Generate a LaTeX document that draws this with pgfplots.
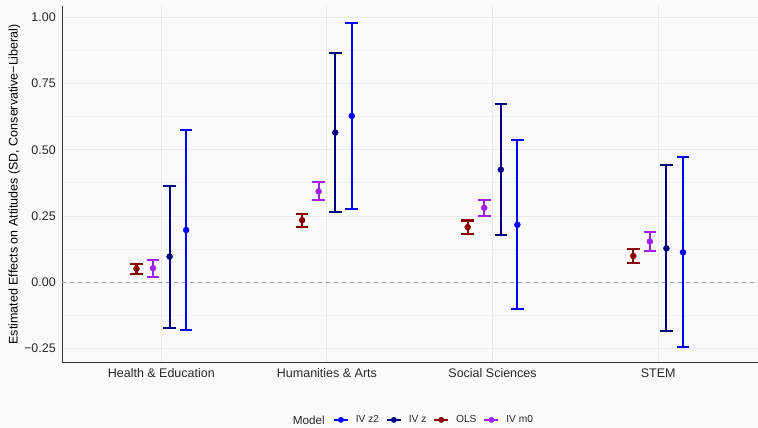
\documentclass[border=0pt]{standalone}
\usepackage{fontspec}
\setmainfont{Liberation Sans}
\usepackage{pgfplots}
\pgfplotsset{compat=1.18}
\usepackage{pgfplotstable}

\definecolor{bg}{RGB}{250,250,250}
\definecolor{gridmaj}{RGB}{234,234,234}
\definecolor{gridmin}{RGB}{241,241,241}
\definecolor{cz2}{RGB}{0,0,255}
\definecolor{cz}{RGB}{0,0,128}
\definecolor{cols}{RGB}{139,0,0}
\definecolor{cm0}{RGB}{160,32,240}
\definecolor{txt}{RGB}{40,40,40}

% category index, estimate, lower CI, upper CI
\pgfplotstableread{
x y lo hi
1 0.197 -0.179 0.575
2 0.628 0.278 0.979
3 0.217 -0.102 0.536
4 0.113 -0.243 0.473
}\ivzz
\pgfplotstableread{
x y lo hi
1 0.097 -0.174 0.365
2 0.565 0.264 0.866
3 0.425 0.178 0.674
4 0.128 -0.185 0.442
}\ivz
\pgfplotstableread{
x y lo hi
1 0.051 0.030 0.070
2 0.234 0.209 0.258
3 0.208 0.183 0.233
4 0.099 0.074 0.127
}\ols
\pgfplotstableread{
x y lo hi
1 0.053 0.021 0.084
2 0.343 0.311 0.377
3 0.281 0.249 0.309
4 0.154 0.119 0.188
}\ivmz

\pgfplotsset{
 errplot/.style={only marks, mark=*, mark size=3pt, color=#1, mark options={draw=#1, fill=#1},
  error bars/.cd, y dir=both, y explicit,
  error bar style={line width=2.1pt, draw=#1},
  error mark options={rotate=90, line width=2.1pt, mark size=6.3pt, draw=#1},
  /pgfplots/legend image code/.code={\draw[line width=1.8pt, draw=#1] (0pt,0pt) -- (14pt,0pt); \fill[#1] (7pt,0pt) circle (2.7pt);}}
}

\begin{document}
\begin{tikzpicture}
\fill[bg] (-62pt,-65pt) rectangle (696pt,363pt);
\begin{axis}[
 at={(0pt,0pt)}, anchor=south west, scale only axis, width=696pt, height=357pt,
 xmin=0.4, xmax=4.6, ymin=-0.304, ymax=1.043,
 axis lines=left, axis line style={-, line width=0.9pt, color=black!80},
 xtick={1,2,3,4}, xticklabels={Health \& Education, Humanities \& Arts, Social Sciences, STEM},
 ytick={-0.25,0,0.25,0.5,0.75,1}, yticklabels={−0.25,0.00,0.25,0.50,0.75,1.00},
 minor ytick={-0.125,0.125,0.375,0.625,0.875},
 major tick length=0pt, minor tick length=0pt,
 xmajorgrids, ymajorgrids, yminorgrids,
 major grid style={gridmaj, line width=1pt}, minor grid style={gridmin, line width=0.9pt},
 tick label style={font=\fontsize{12.5}{15}\selectfont, text=txt, inner sep=0pt},
 yticklabel style={xshift=-6pt},
 xticklabel style={yshift=-5.5pt},
 ylabel={Estimated Effects on Attitudes (SD, Conservative−Liberal)},
 every axis y label/.style={at={(axis description cs:-0.0682,0.5)}, rotate=90, anchor=center, font=\fontsize{12.5}{15}\selectfont, text=black},
 legend style={at={(axis description cs:0.3894,-0.16)}, anchor=west, draw=none, fill=none,
   font=\fontsize{10.2}{12}\selectfont, text=txt, inner sep=0pt,
   nodes={inner sep=0pt},
   /tikz/every odd column/.append style={column sep=7pt},
   /tikz/every even column/.append style={column sep=7pt}},
 legend columns=-1,
 clip=false,
]
\draw[color=black!38, line width=0.9pt, dash pattern=on 4.5pt off 3.5pt] (axis cs:0.4,0) -- (axis cs:4.6,0);
\addplot[errplot=cz2] table[x expr=\thisrow{x}+0.15, y=y, y error plus expr=\thisrow{hi}-\thisrow{y}, y error minus expr=\thisrow{y}-\thisrow{lo}] {\ivzz};
\addlegendentry{IV z2}
\addplot[errplot=cz] table[x expr=\thisrow{x}+0.05, y=y, y error plus expr=\thisrow{hi}-\thisrow{y}, y error minus expr=\thisrow{y}-\thisrow{lo}] {\ivz};
\addlegendentry{IV z}
\addplot[errplot=cols] table[x expr=\thisrow{x}-0.15, y=y, y error plus expr=\thisrow{hi}-\thisrow{y}, y error minus expr=\thisrow{y}-\thisrow{lo}] {\ols};
\addlegendentry{OLS}
\addplot[errplot=cm0] table[x expr=\thisrow{x}-0.05, y=y, y error plus expr=\thisrow{hi}-\thisrow{y}, y error minus expr=\thisrow{y}-\thisrow{lo}] {\ivmz};
\addlegendentry{IV m0}
\node[anchor=east, font=\fontsize{11.7}{14}\selectfont, text=txt, inner sep=0pt] at (axis description cs:0.3779,-0.16) {Model};
\end{axis}
\end{tikzpicture}
\end{document}
